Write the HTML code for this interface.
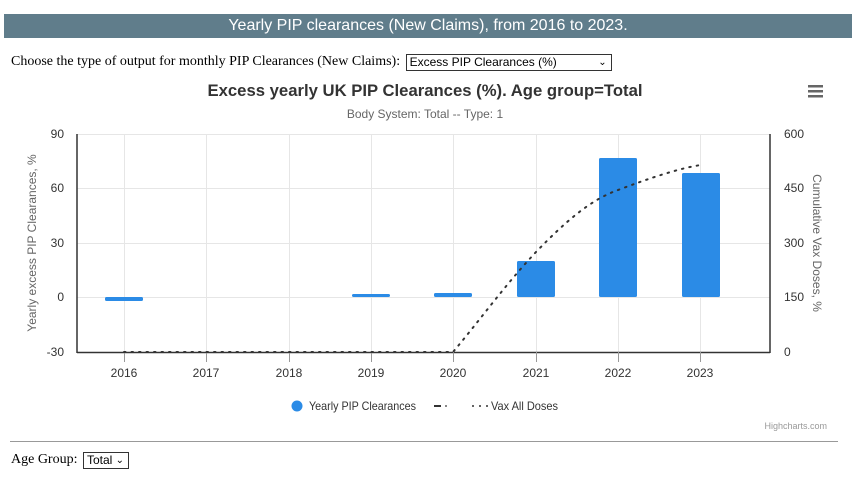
<!DOCTYPE html>
<html><head><meta charset="utf-8"><style>
body{margin:0;width:856px;height:481px;background:#fff;font-family:"Liberation Serif",serif;position:relative;overflow:hidden}
.hdr{position:absolute;left:4px;top:14px;width:848px;height:24px;background:#607d8b;color:#fff;font-family:"Liberation Sans",sans-serif;font-size:16px;text-align:center;line-height:24px}
.l1{position:absolute;left:11px;top:54px;font-size:14px;color:#000}
.sel{display:inline-block;border:1px solid #333;font-family:"Liberation Sans",sans-serif;font-size:12px;padding:0 3px;height:15px;line-height:15px;vertical-align:top;margin-left:2px;position:relative}
hr{position:absolute;left:10px;top:441px;width:828px;margin:0;border:0;border-top:1px solid #999}
.l2{position:absolute;left:11px;top:452px;font-size:14px}
</style></head><body>
<div class="hdr">Yearly PIP clearances (New Claims), from 2016 to 2023.</div>
<div class="l1">Choose the type of output for monthly PIP Clearances (New Claims): <span class="sel" style="width:198px">Excess PIP Clearances (%)<span style="position:absolute;right:4px;font-size:10px">&#8964;</span></span></div>
<svg style="position:absolute;left:0;top:0" width="856" height="481" font-family="Liberation Sans, sans-serif">
<text x="425" y="96" text-anchor="middle" font-size="17" font-weight="bold" fill="#333" textLength="435" lengthAdjust="spacingAndGlyphs">Excess yearly UK PIP Clearances (%). Age group=Total</text>
<text x="425" y="118" text-anchor="middle" font-size="12" fill="#666">Body System: Total -- Type: 1</text>
<g fill="#666"><rect x="808" y="85" width="15" height="2.5"/><rect x="808" y="90" width="15" height="2.5"/><rect x="808" y="95" width="15" height="2.5"/></g>
<g stroke="#e6e6e6" stroke-width="1">
<line x1="77" x2="770" y1="134.5" y2="134.5"/><line x1="77" x2="770" y1="188.5" y2="188.5"/><line x1="77" x2="770" y1="243.5" y2="243.5"/><line x1="77" x2="770" y1="297.5" y2="297.5"/>
<line x1="124.5" x2="124.5" y1="134" y2="352"/><line x1="206.5" x2="206.5" y1="134" y2="352"/><line x1="289.5" x2="289.5" y1="134" y2="352"/><line x1="371.5" x2="371.5" y1="134" y2="352"/><line x1="453.5" x2="453.5" y1="134" y2="352"/><line x1="536.5" x2="536.5" y1="134" y2="352"/><line x1="618.5" x2="618.5" y1="134" y2="352"/><line x1="700.5" x2="700.5" y1="134" y2="352"/>
</g>
<g stroke="#333" stroke-width="1.5" fill="none"><line x1="77" y1="134" x2="77" y2="353"/><line x1="770" y1="134" x2="770" y2="353"/><line x1="77" y1="352.5" x2="770" y2="352.5"/></g>
<g stroke="#999"><line x1="124.5" x2="124.5" y1="352" y2="362"/><line x1="206.5" x2="206.5" y1="352" y2="362"/><line x1="289.5" x2="289.5" y1="352" y2="362"/><line x1="371.5" x2="371.5" y1="352" y2="362"/><line x1="453.5" x2="453.5" y1="352" y2="362"/><line x1="536.5" x2="536.5" y1="352" y2="362"/><line x1="618.5" x2="618.5" y1="352" y2="362"/><line x1="700.5" x2="700.5" y1="352" y2="362"/></g>
<g fill="#2b8be6">
<rect x="105" y="297" width="38" height="4" rx="1.5"/><rect x="352" y="294" width="38" height="3" rx="1.5"/><rect x="434" y="293" width="38" height="4" rx="1.5"/>
<rect x="517" y="261" width="38" height="36" rx="1.5"/><rect x="599" y="158" width="38" height="139" rx="1.5"/><rect x="682" y="173" width="38" height="124" rx="1.5"/>
</g>
<path d="M124 352 L453 352 C480 320 505 285 536 252 C565 222 590 200 618 190 C650 178 680 168 701 165" fill="none" stroke="#333" stroke-width="2" stroke-dasharray="1.5 6" stroke-linecap="round"/>
<g font-size="12" fill="#333" text-anchor="end"><text x="64" y="138">90</text><text x="64" y="192">60</text><text x="64" y="247">30</text><text x="64" y="301">0</text><text x="64" y="356">-30</text></g>
<g font-size="12" fill="#333" text-anchor="start"><text x="784" y="138">600</text><text x="784" y="192">450</text><text x="784" y="247">300</text><text x="784" y="301">150</text><text x="784" y="356">0</text></g>
<g font-size="12" fill="#333" text-anchor="middle"><text x="124" y="377">2016</text><text x="206" y="377">2017</text><text x="289" y="377">2018</text><text x="371" y="377">2019</text><text x="453" y="377">2020</text><text x="536" y="377">2021</text><text x="618" y="377">2022</text><text x="700" y="377">2023</text></g>
<text transform="translate(36,243) rotate(-90)" text-anchor="middle" font-size="12" fill="#666">Yearly excess PIP Clearances, %</text>
<text transform="translate(813,243) rotate(90)" text-anchor="middle" font-size="12" fill="#666">Cumulative Vax Doses, %</text>
<circle cx="297" cy="406" r="5.5" fill="#2b8be6"/>
<text x="309" y="410" font-size="12" fill="#333" textLength="107" lengthAdjust="spacingAndGlyphs">Yearly PIP Clearances</text>
<line x1="434" y1="406" x2="441" y2="406" stroke="#333" stroke-width="2"/><circle cx="446" cy="406" r="0.9" fill="#333"/>
<g fill="#333"><circle cx="473" cy="406" r="1"/><circle cx="480" cy="406" r="1"/><circle cx="487" cy="406" r="1"/></g>
<text x="491" y="410" font-size="12" fill="#333" textLength="67" lengthAdjust="spacingAndGlyphs">Vax All Doses</text>
<text x="827" y="429" text-anchor="end" font-size="9" fill="#999">Highcharts.com</text>
</svg>
<hr>
<div class="l2">Age Group: <span class="sel" style="width:38px">Total<span style="position:absolute;right:4px;font-size:10px">&#8964;</span></span></div>
</body></html>
